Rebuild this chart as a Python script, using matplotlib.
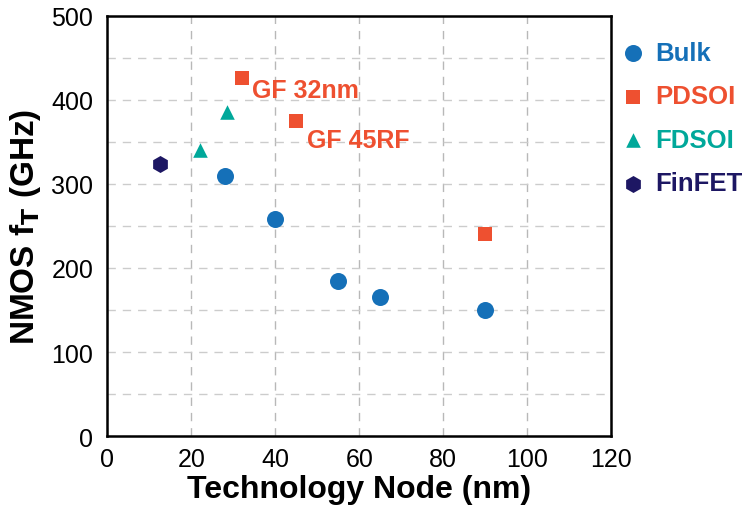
import matplotlib
matplotlib.use("Agg")
import matplotlib.pyplot as plt
import numpy as np

plt.rcParams['font.family'] = ['Liberation Sans', 'DejaVu Sans']

# data
bulk_x = [28, 40, 55, 65, 90]
bulk_y = [310, 258, 184, 165, 150]
pdsoi_x = [32, 45, 90]
pdsoi_y = [426, 375, 240]
fdsoi_x = [22, 28.5]
fdsoi_y = [340, 386]
finfet_x = [12.5]
finfet_y = [324]

labels = ["GF 32nm", "GF 45RF"]
label_x = [34.5, 47.5]
label_y = [412, 352]

c_bulk = '#1570b8'
c_pdsoi = '#ee5030'
c_fdsoi = '#00a89a'
c_finfet = '#1d1763'

fig = plt.figure(figsize=(7.5, 5.1), dpi=100)
ax = fig.add_axes([0.143, 0.143, 0.672, 0.824])

ax.scatter(bulk_x, bulk_y, marker='o', s=150, color=c_bulk, label='Bulk', zorder=3, linewidths=0)
ax.scatter(pdsoi_x, pdsoi_y, marker='s', s=105, color=c_pdsoi, label='PDSOI', zorder=3, linewidths=0)
ax.scatter(fdsoi_x, fdsoi_y, marker='^', s=110, color=c_fdsoi, label='FDSOI', zorder=3, linewidths=0)
ax.scatter(finfet_x, finfet_y, marker='h', s=150, color=c_finfet, label='FinFET', zorder=3, linewidths=0)

for t, x, y in zip(labels, label_x, label_y):
    ax.text(x, y, t, color=c_pdsoi, fontsize=18, fontweight='bold', va='center', ha='left')

ax.set_xlim(0, 120)
ax.set_ylim(0, 500)
ax.set_xticks(np.arange(0, 121, 20))
ax.set_yticks(np.arange(0, 501, 100))
ax.set_yticks(np.arange(50, 500, 100), minor=True)
ax.grid(True, axis='x', color='#b8b8b8', linestyle=(0, (6, 5)), linewidth=1.0)
ax.grid(True, axis='y', which='both', color='#cccccc', linestyle=(0, (6, 5)), linewidth=1.0)
ax.set_axisbelow(True)

ax.tick_params(axis='x', which='both', length=0, labelsize=18, pad=8)
ax.tick_params(axis='y', which='both', length=0, labelsize=18, pad=10)
for sp in ax.spines.values():
    sp.set_linewidth(1.8)

ax.set_xlabel('Technology Node (nm)', fontsize=23, fontweight='bold', labelpad=2)
ax.set_ylabel('NMOS f$_\\mathbf{T}$ (GHz)', fontsize=24, fontweight='bold', labelpad=6)

leg = fig.legend(handles=ax.collections, loc='upper left', bbox_to_anchor=(620 / 750, 0.918),
                 frameon=False, handlelength=1.0, handletextpad=0.36, labelspacing=0.76,
                 borderpad=0, borderaxespad=0, markerscale=1.0,
                 prop={'size': 18.5, 'weight': 'bold'})
for txt, col in zip(leg.get_texts(), [c_bulk, c_pdsoi, c_fdsoi, c_finfet]):
    txt.set_color(col)

fig.savefig('out.png', dpi=100)
